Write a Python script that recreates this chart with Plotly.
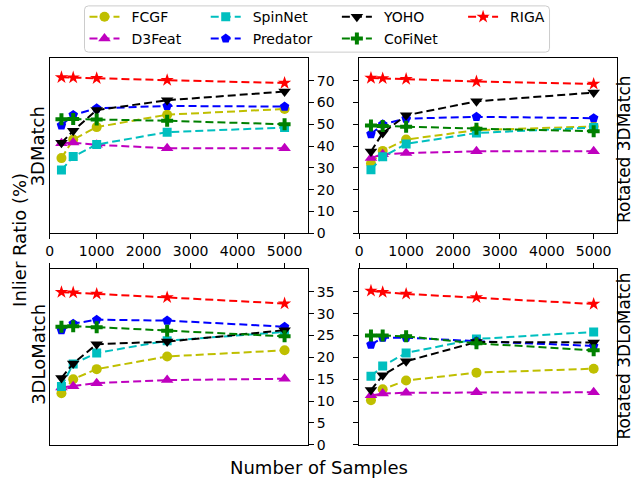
import plotly.graph_objects as go

# ---------------- data ----------------
samples = [250, 500, 1000, 2500, 5000]
methods = ["FCGF", "D3Feat", "SpinNet", "Predator", "YOHO", "CoFiNet", "RIGA"]
x_ticks = [0, 1000, 2000, 3000, 4000, 5000]
y_ticks_match = [0, 10, 20, 30, 40, 50, 60, 70]
y_ticks_lomatch = [0, 5, 10, 15, 20, 25, 30, 35]

# 3DMatch
fcgf_3dm = [34.5, 43.0, 48.7, 54.4, 57.0]
d3feat_3dm = [41.3, 41.6, 40.6, 39.0, 39.0]
spinnet_3dm = [29.0, 35.2, 40.7, 46.4, 48.5]
predator_3dm = [49.5, 54.3, 57.3, 58.4, 58.1]
yoho_3dm = [41.5, 47.0, 56.5, 61.0, 65.0]
cofinet_3dm = [52.3, 52.4, 52.2, 51.6, 50.0]
riga_3dm = [71.5, 71.4, 71.1, 70.2, 68.9]

# Rotated 3DMatch
fcgf_r3dm = [32.0, 37.8, 43.0, 47.3, 49.0]
d3feat_r3dm = [34.5, 36.3, 36.8, 37.6, 37.6]
spinnet_r3dm = [29.2, 35.1, 41.0, 46.0, 48.5]
predator_r3dm = [45.5, 50.0, 52.6, 53.4, 52.8]
yoho_r3dm = [37.5, 46.0, 54.1, 60.5, 64.5]
cofinet_r3dm = [49.4, 49.2, 48.9, 48.0, 46.8]
riga_r3dm = [71.2, 71.0, 70.7, 69.6, 68.5]

# 3DLoMatch
fcgf_3dlm = [11.8, 15.0, 17.3, 20.2, 21.6]
d3feat_3dlm = [13.1, 13.4, 14.1, 14.8, 15.1]
spinnet_3dlm = [13.3, 18.5, 21.0, 23.8, 25.8]
predator_3dlm = [26.2, 27.7, 28.6, 28.4, 27.0]
yoho_3dlm = [15.3, 18.6, 23.0, 23.6, 26.2]
cofinet_3dlm = [27.0, 27.1, 26.9, 26.1, 24.8]
riga_3dlm = [34.9, 34.8, 34.5, 33.7, 32.3]

# Rotated 3DLoMatch
fcgf_r3dlm = [10.2, 12.7, 14.7, 16.5, 17.4]
d3feat_r3dlm = [11.3, 11.7, 11.9, 12.0, 12.0]
spinnet_r3dlm = [15.7, 18.0, 21.0, 24.2, 25.8]
predator_r3dlm = [22.9, 24.5, 24.5, 23.7, 22.6]
yoho_r3dlm = [12.5, 15.9, 19.1, 23.5, 23.4]
cofinet_r3dlm = [25.0, 25.0, 24.8, 23.2, 21.6]
riga_r3dlm = [35.2, 34.9, 34.5, 33.7, 32.2]

panels = [
    ([fcgf_3dm, d3feat_3dm, spinnet_3dm, predator_3dm, yoho_3dm, cofinet_3dm, riga_3dm], "x", "y"),
    ([fcgf_r3dm, d3feat_r3dm, spinnet_r3dm, predator_r3dm, yoho_r3dm, cofinet_r3dm, riga_r3dm], "x2", "y2"),
    ([fcgf_3dlm, d3feat_3dlm, spinnet_3dlm, predator_3dlm, yoho_3dlm, cofinet_3dlm, riga_3dlm], "x3", "y3"),
    ([fcgf_r3dlm, d3feat_r3dlm, spinnet_r3dlm, predator_r3dlm, yoho_r3dlm, cofinet_r3dlm, riga_r3dlm], "x4", "y4"),
]

# ---------------- styles ----------------
colors = ["#bfbf00", "#bf00bf", "#00bfbf", "#0000ff", "#000000", "#008000", "#ff0000"]
symbols = ["circle", "triangle-up", "square", "pentagon", "triangle-down", "cross", "star"]
msizes = [10, 11, 9, 10, 11, 10, 10]

W, H = 634, 487
FONT = "DejaVu Sans"


def px(x):
    return x / W


def py(y):
    return 1 - y / H


# legend layout (pixel): marker-centre x, row y
leg_pos = {
    "FCGF": (101, 17.5), "D3Feat": (101, 39.5),
    "SpinNet": (223, 17.5), "Predator": (223, 39.5),
    "YOHO": (355, 17.5), "CoFiNet": (355, 39.5),
    "RIGA": (482, 17.5),
}
leg_ids = {m: ("legend" if i == 0 else f"legend{i+1}") for i, m in enumerate(methods)}

fig = go.Figure()
for p, (series, xa, ya) in enumerate(panels):
    for i, m in enumerate(methods):
        fig.add_trace(go.Scatter(
            x=samples, y=series[i], xaxis=xa, yaxis=ya,
            mode="lines+markers", name="\u2002" + m,
            line=dict(color=colors[i], width=2, dash="8px,4px"),
            marker=dict(symbol=symbols[i], size=msizes[i], color=colors[i]),
            showlegend=(p == 0), legend=leg_ids[m],
        ))

# legends, one per entry
for m in methods:
    cx, cy = leg_pos[m]
    fig.update_layout({leg_ids[m]: dict(
        x=px(cx - 20), y=py(cy), xanchor="left", yanchor="middle",
        bgcolor="rgba(0,0,0,0)", borderwidth=0,
        font=dict(family=FONT, size=14, color="black"),
    )})

# axes geometry
xl = [px(46), px(306)]
xr = [px(357.5), px(617)]
yt = [py(237.3), py(59)]
yb = [py(452.2), py(273.5)]

common_x = dict(range=[0, 5500], tickvals=x_ticks, ticks="outside", ticklen=5, tickwidth=1,
                tickcolor="black", showline=True, linecolor="black", linewidth=1, mirror=True,
                showgrid=False, zeroline=False,
                tickfont=dict(family=FONT, size=14, color="black"))
common_y = dict(ticks="outside", ticklen=5, tickwidth=1, tickcolor="black", showline=True,
                linecolor="black", linewidth=1, mirror=True, showgrid=False, zeroline=False,
                tickfont=dict(family=FONT, size=14, color="black"))

fig.update_layout(
    xaxis=dict(domain=xl, anchor="y", side="bottom", **common_x),
    xaxis2=dict(domain=xr, anchor="y2", side="bottom", **common_x),
    xaxis3=dict(domain=xl, anchor="y3", side="top", showticklabels=False, **common_x),
    xaxis4=dict(domain=xr, anchor="y4", side="top", showticklabels=False, **common_x),
    yaxis=dict(domain=yt, anchor="x", side="right", range=[0, 80.35], tickvals=y_ticks_match, **common_y),
    yaxis2=dict(domain=yt, anchor="x2", side="left", range=[0, 80.35], tickvals=y_ticks_match,
                showticklabels=False, **common_y),
    yaxis3=dict(domain=yb, anchor="x3", side="right", range=[0, 40.2], tickvals=y_ticks_lomatch, **common_y),
    yaxis4=dict(domain=yb, anchor="x4", side="left", range=[0, 40.2], tickvals=y_ticks_lomatch,
                showticklabels=False, **common_y),
)

lab_font = dict(family=FONT, size=18, color="black")
side_font = dict(family=FONT, size=17, color="black")
annots = [
    dict(text="Inlier Ratio (%)", x=px(15.5), y=py(243.5), textangle=-90, font=lab_font),
    dict(text="3DMatch", x=px(34), y=py(149), textangle=-90, font=lab_font),
    dict(text="3DLoMatch", x=px(34), y=py(360), textangle=-90, font=lab_font),
    dict(text="Rotated 3DMatch", x=px(623.5), y=py(152), textangle=-90, font=side_font),
    dict(text="Rotated 3DLoMatch", x=px(623.5), y=py(362), textangle=-90, font=side_font),
    dict(text="Number of Samples", x=px(317), y=py(475), textangle=0, font=lab_font),
]
for a in annots:
    fig.add_annotation(xref="paper", yref="paper", xanchor="center", yanchor="middle",
                       showarrow=False, borderpad=0, **a)

# legend frame (rounded rectangle)
x0, x1, y0, y1 = px(81), px(549), py(53), py(6)
rx, ry = px(4), 4 / H
path = (f"M{x0+rx},{y1} L{x1-rx},{y1} Q{x1},{y1} {x1},{y1-ry} L{x1},{y0+ry} Q{x1},{y0} {x1-rx},{y0} "
        f"L{x0+rx},{y0} Q{x0},{y0} {x0},{y0+ry} L{x0},{y1-ry} Q{x0},{y1} {x0+rx},{y1} Z")
fig.add_shape(type="path", path=path, xref="paper", yref="paper",
              line=dict(color="#cccccc", width=1), fillcolor="rgba(255,255,255,0)")

fig.update_layout(width=W, height=H, margin=dict(l=0, r=0, t=0, b=0),
                  paper_bgcolor="white", plot_bgcolor="white",
                  font=dict(family=FONT, color="black"))

fig.write_html("out.html")
